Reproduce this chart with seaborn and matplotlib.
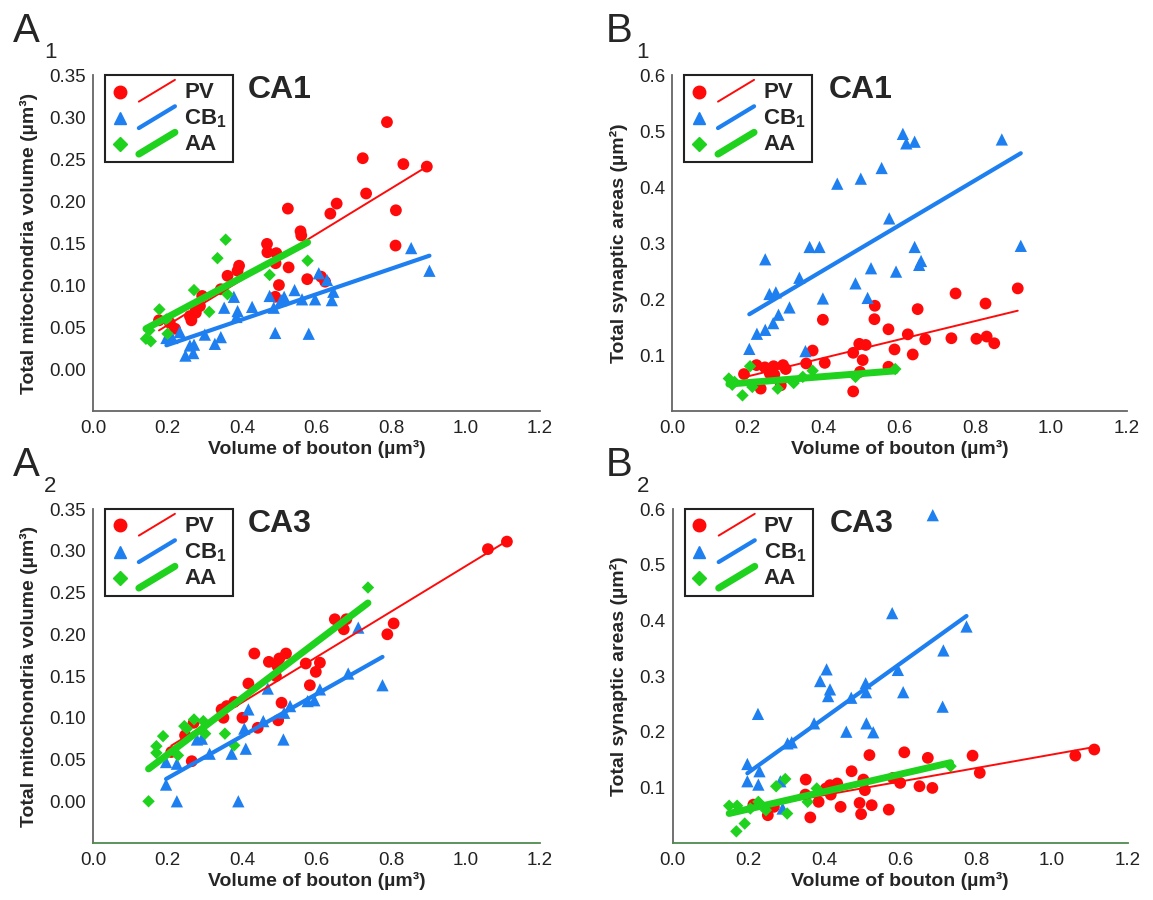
import numpy as np
import pandas as pd
import matplotlib
matplotlib.use("Agg")
import matplotlib.pyplot as plt
import seaborn as sns
from matplotlib.lines import Line2D
from matplotlib.legend_handler import HandlerBase
from matplotlib.ticker import MultipleLocator

sns.set_style("white")
plt.rcParams["font.family"] = ["Liberation Sans", "DejaVu Sans"]
plt.rcParams["mathtext.fontset"] = "custom"
plt.rcParams["mathtext.rm"] = "Liberation Sans"

# ---- data ----
# A1: CA1 mitochondria volume vs bouton volume
a1_pv_x = [0.789, 0.724, 0.833, 0.896, 0.733, 0.813, 0.812, 0.523, 0.654, 0.637, 0.557, 0.559, 0.467, 0.468,
           0.492, 0.490, 0.525, 0.575, 0.612, 0.623, 0.499, 0.489, 0.392, 0.388, 0.361, 0.343, 0.293, 0.287,
           0.276, 0.260, 0.264, 0.220, 0.177, 0.206, 0.276]
a1_pv_y = [0.294, 0.251, 0.244, 0.241, 0.209, 0.189, 0.147, 0.191, 0.197, 0.185, 0.164, 0.159, 0.149, 0.139,
           0.138, 0.126, 0.121, 0.107, 0.110, 0.104, 0.100, 0.086, 0.123, 0.117, 0.111, 0.095, 0.087, 0.075,
           0.071, 0.063, 0.058, 0.048, 0.058, 0.055, 0.067]
a1_cb_x = [0.854, 0.903, 0.606, 0.628, 0.645, 0.641, 0.596, 0.561, 0.541, 0.513, 0.505, 0.474, 0.485, 0.579,
           0.489, 0.427, 0.388, 0.385, 0.378, 0.352, 0.343, 0.327, 0.300, 0.271, 0.260, 0.269, 0.248, 0.233,
           0.213, 0.197]
a1_cb_y = [0.144, 0.117, 0.114, 0.106, 0.092, 0.082, 0.083, 0.083, 0.094, 0.086, 0.082, 0.087, 0.073, 0.042,
           0.043, 0.074, 0.069, 0.062, 0.086, 0.073, 0.038, 0.030, 0.041, 0.029, 0.028, 0.019, 0.016, 0.044,
           0.037, 0.037]
a1_aa_x = [0.356, 0.334, 0.576, 0.474, 0.271, 0.361, 0.312, 0.178, 0.200, 0.142, 0.155, 0.151, 0.197]
a1_aa_y = [0.154, 0.132, 0.129, 0.112, 0.094, 0.089, 0.068, 0.071, 0.042, 0.036, 0.033, 0.046, 0.059]

# B1: CA1 synaptic area vs bouton volume
b1_pv_x = [0.912, 0.748, 0.827, 0.535, 0.648, 0.398, 0.534, 0.571, 0.622, 0.668, 0.737, 0.803, 0.830, 0.850,
           0.494, 0.511, 0.587, 0.635, 0.478, 0.503, 0.371, 0.403, 0.354, 0.571, 0.496, 0.478, 0.190, 0.223,
           0.245, 0.268, 0.293, 0.300, 0.270, 0.234, 0.287, 0.258]
b1_pv_y = [0.219, 0.210, 0.192, 0.188, 0.182, 0.163, 0.164, 0.146, 0.137, 0.128, 0.130, 0.129, 0.133, 0.121,
           0.120, 0.118, 0.110, 0.101, 0.104, 0.091, 0.108, 0.086, 0.085, 0.079, 0.070, 0.035, 0.066, 0.082,
           0.078, 0.080, 0.082, 0.075, 0.065, 0.040, 0.046, 0.067]
b1_cb_x = [0.609, 0.618, 0.640, 0.870, 0.553, 0.498, 0.436, 0.573, 0.363, 0.389, 0.640, 0.920, 0.657, 0.652,
           0.246, 0.525, 0.591, 0.336, 0.484, 0.257, 0.274, 0.398, 0.516, 0.310, 0.281, 0.267, 0.246, 0.224,
           0.204, 0.352]
b1_cb_y = [0.495, 0.478, 0.481, 0.485, 0.434, 0.415, 0.406, 0.344, 0.293, 0.293, 0.293, 0.295, 0.268, 0.261,
           0.271, 0.255, 0.249, 0.238, 0.228, 0.209, 0.212, 0.201, 0.202, 0.185, 0.172, 0.157, 0.145, 0.138,
           0.111, 0.107]
b1_aa_x = [0.150, 0.159, 0.186, 0.206, 0.212, 0.279, 0.321, 0.345, 0.371, 0.484, 0.589, 0.165]
b1_aa_y = [0.058, 0.047, 0.028, 0.080, 0.043, 0.040, 0.050, 0.061, 0.072, 0.061, 0.075, 0.052]

# A2: CA3 mitochondria volume vs bouton volume
a2_pv_x = [1.111, 1.060, 0.807, 0.790, 0.649, 0.680, 0.673, 0.433, 0.472, 0.500, 0.518, 0.495, 0.571, 0.609,
           0.598, 0.491, 0.582, 0.417, 0.379, 0.359, 0.345, 0.350, 0.401, 0.506, 0.497, 0.442, 0.270, 0.247,
           0.265, 0.210]
a2_pv_y = [0.311, 0.302, 0.213, 0.200, 0.218, 0.218, 0.206, 0.177, 0.167, 0.171, 0.177, 0.162, 0.165, 0.166,
           0.155, 0.150, 0.139, 0.141, 0.119, 0.114, 0.110, 0.100, 0.100, 0.118, 0.097, 0.088, 0.094, 0.079,
           0.048, 0.059]
a2_cb_x = [0.712, 0.685, 0.777, 0.609, 0.594, 0.576, 0.529, 0.513, 0.469, 0.457, 0.417, 0.406, 0.410, 0.511,
           0.372, 0.313, 0.292, 0.279, 0.225, 0.196, 0.196, 0.225, 0.390]
a2_cb_y = [0.208, 0.153, 0.139, 0.134, 0.121, 0.120, 0.114, 0.106, 0.135, 0.096, 0.110, 0.087, 0.063, 0.074,
           0.057, 0.057, 0.075, 0.074, 0.045, 0.047, 0.020, 0.000, 0.000]
a2_aa_x = [0.738, 0.271, 0.245, 0.296, 0.301, 0.354, 0.379, 0.188, 0.170, 0.170, 0.228, 0.149, 0.252]
a2_aa_y = [0.256, 0.098, 0.090, 0.096, 0.081, 0.081, 0.067, 0.078, 0.066, 0.058, 0.055, 0.000, 0.087]

# B2: CA3 synaptic area vs bouton volume
b2_pv_x = [1.112, 1.062, 0.791, 0.810, 0.611, 0.673, 0.519, 0.472, 0.581, 0.600, 0.651, 0.685, 0.503, 0.507,
           0.434, 0.415, 0.404, 0.417, 0.351, 0.350, 0.385, 0.443, 0.493, 0.525, 0.497, 0.570, 0.363, 0.251,
           0.267, 0.213]
b2_pv_y = [0.168, 0.157, 0.157, 0.126, 0.163, 0.153, 0.158, 0.129, 0.117, 0.108, 0.102, 0.099, 0.114, 0.095,
           0.107, 0.104, 0.098, 0.087, 0.114, 0.087, 0.074, 0.065, 0.072, 0.068, 0.052, 0.060, 0.046, 0.050,
           0.065, 0.069]
b2_cb_x = [0.686, 0.579, 0.775, 0.714, 0.594, 0.406, 0.389, 0.415, 0.410, 0.509, 0.510, 0.608, 0.471, 0.712,
           0.225, 0.373, 0.511, 0.529, 0.458, 0.314, 0.303, 0.197, 0.229, 0.197, 0.226, 0.284, 0.290]
b2_cb_y = [0.589, 0.413, 0.389, 0.346, 0.311, 0.312, 0.291, 0.276, 0.264, 0.287, 0.271, 0.271, 0.261, 0.245,
           0.232, 0.215, 0.215, 0.199, 0.200, 0.181, 0.179, 0.142, 0.129, 0.111, 0.105, 0.111, 0.062]
b2_aa_x = [0.733, 0.297, 0.273, 0.380, 0.356, 0.302, 0.246, 0.226, 0.205, 0.149, 0.170, 0.190, 0.168]
b2_aa_y = [0.138, 0.115, 0.102, 0.098, 0.074, 0.053, 0.059, 0.074, 0.062, 0.067, 0.067, 0.035, 0.021]

groups = ["PV", "CB1", "AA"]
labels = {"PV": "PV", "CB1": r"CB$_{\mathregular{1}}$", "AA": "AA"}
colors = {"PV": "#ff0a0a", "CB1": "#1e7ff0", "AA": "#1ed21e"}
markers = {"PV": "o", "CB1": "^", "AA": "D"}
sizes = {"PV": 72, "CB1": 78, "AA": 40}
lws = {"PV": 1.4, "CB1": 3.0, "AA": 5.0}

vol_label = "Total mitochondria volume (µm³)"
syn_label = "Total synaptic areas (µm²)"

panels = [
    # letter, sub, region, axes rect, ylabel, kind, data
    ("A", "1", "CA1", [0.0807, 0.5433, 0.3877, 0.3733], vol_label, "mito",
     {"PV": (a1_pv_x, a1_pv_y), "CB1": (a1_cb_x, a1_cb_y), "AA": (a1_aa_x, a1_aa_y)}),
    ("B", "1", "CA1", [0.5828, 0.5433, 0.3946, 0.3733], syn_label, "syn",
     {"PV": (b1_pv_x, b1_pv_y), "CB1": (b1_cb_x, b1_cb_y), "AA": (b1_aa_x, b1_aa_y)}),
    ("A", "2", "CA3", [0.0807, 0.0633, 0.3877, 0.3711], vol_label, "mito",
     {"PV": (a2_pv_x, a2_pv_y), "CB1": (a2_cb_x, a2_cb_y), "AA": (a2_aa_x, a2_aa_y)}),
    ("B", "2", "CA3", [0.5834, 0.0633, 0.3946, 0.3711], syn_label, "syn",
     {"PV": (b2_pv_x, b2_pv_y), "CB1": (b2_cb_x, b2_cb_y), "AA": (b2_aa_x, b2_aa_y)}),
]


class MarkerSlant(HandlerBase):
    # marker followed by a short slanted line, like the original legend
    def create_artists(self, legend, orig, xd, yd, w, h, fs, trans):
        x0, y0 = -xd, -yd
        dot = Line2D([x0 + 0.12 * w], [y0 + 0.4 * h], ls="none", marker=orig.get_marker(),
                     markersize=orig.get_markersize(), color=orig.get_color(), transform=trans)
        seg = Line2D([x0 + 0.42 * w, x0 + 0.98 * w], [y0 - 0.25 * h, y0 + 1.15 * h],
                     color=orig.get_color(), lw=orig.get_linewidth(), solid_capstyle="round",
                     transform=trans)
        return [dot, seg]


fig = plt.figure(figsize=(11.53, 9.0), dpi=100)

for letter, sub, region, rect, ylab, kind, data in panels:
    ax = fig.add_axes(rect)
    for g in groups:
        df = pd.DataFrame({"x": data[g][0], "y": data[g][1]})
        sns.scatterplot(data=df, x="x", y="y", ax=ax, color=colors[g], marker=markers[g],
                        s=sizes[g], edgecolor="none", linewidth=0, zorder=3)
        sns.regplot(data=df, x="x", y="y", ax=ax, scatter=False, ci=None, truncate=True,
                    color=colors[g], line_kws={"lw": lws[g], "zorder": 4})

    ax.set_xlim(0, 1.2)
    ax.xaxis.set_major_locator(MultipleLocator(0.2))
    ax.xaxis.set_minor_locator(MultipleLocator(0.1))
    ax.set_xticklabels([f"{v:.1f}" for v in ax.get_xticks()])
    if kind == "mito":
        ax.set_ylim(-0.05, 0.35)
        yt = np.arange(0, 0.351, 0.05)
        ax.set_yticks(yt)
        ax.set_yticklabels([f"{v:.2f}" for v in yt])
    else:
        ax.set_ylim(0, 0.6)
        yt = np.arange(0.1, 0.61, 0.1)
        ax.set_yticks(yt)
        ax.set_yticklabels([f"{v:.1f}" for v in yt])
    ax.set_xlim(0, 1.2)

    ax.tick_params(which="both", direction="in", length=3, width=1, color="#4f8a4f",
                   labelsize=13.5, labelcolor="#222222", pad=5)
    ax.tick_params(axis="x", which="both", pad=6.5)
    for s in ["top", "right"]:
        ax.spines[s].set_visible(False)
    for s in ["left", "bottom"]:
        ax.spines[s].set_color("#666666")
        ax.spines[s].set_linewidth(1.3)
    if sub == "2":
        ax.spines["bottom"].set_color("#4f8a4f")

    ax.set_xlabel("Volume of bouton (µm³)", fontsize=14, fontweight="bold", labelpad=2)
    ax.set_ylabel(ylab, fontsize=14, fontweight="bold", labelpad=8)

    handles = [Line2D([], [], color=colors[g], marker=markers[g], lw=lws[g],
                      markersize={"PV": 9, "CB1": 9, "AA": 7}[g]) for g in groups]
    leg = ax.legend(handles, [labels[g] for g in groups], loc="upper left",
                    bbox_to_anchor=(0.027, 1.0), borderaxespad=0, frameon=True,
                    fancybox=False, framealpha=1, edgecolor="#222222",
                    handler_map={Line2D: MarkerSlant()}, handlelength=2.9,
                    handletextpad=0.35, labelspacing=0.2, borderpad=0.3,
                    prop={"weight": "bold", "size": 16})
    leg.get_frame().set_linewidth(1.5)

    ax.text(0.345, 0.955, region, transform=ax.transAxes, fontsize=23,
            fontweight="bold", va="center", ha="left")

    # panel letter with subscript number
    lx = 0.011 if letter == "A" else 0.525
    top = rect[1] + rect[3]
    fig.text(lx, top + 0.037, letter, fontsize=29, va="baseline", ha="left")
    fig.text(lx + 0.027, top + 0.019, sub, fontsize=16, va="baseline", ha="left")

fig.savefig("out.png", dpi=100)
